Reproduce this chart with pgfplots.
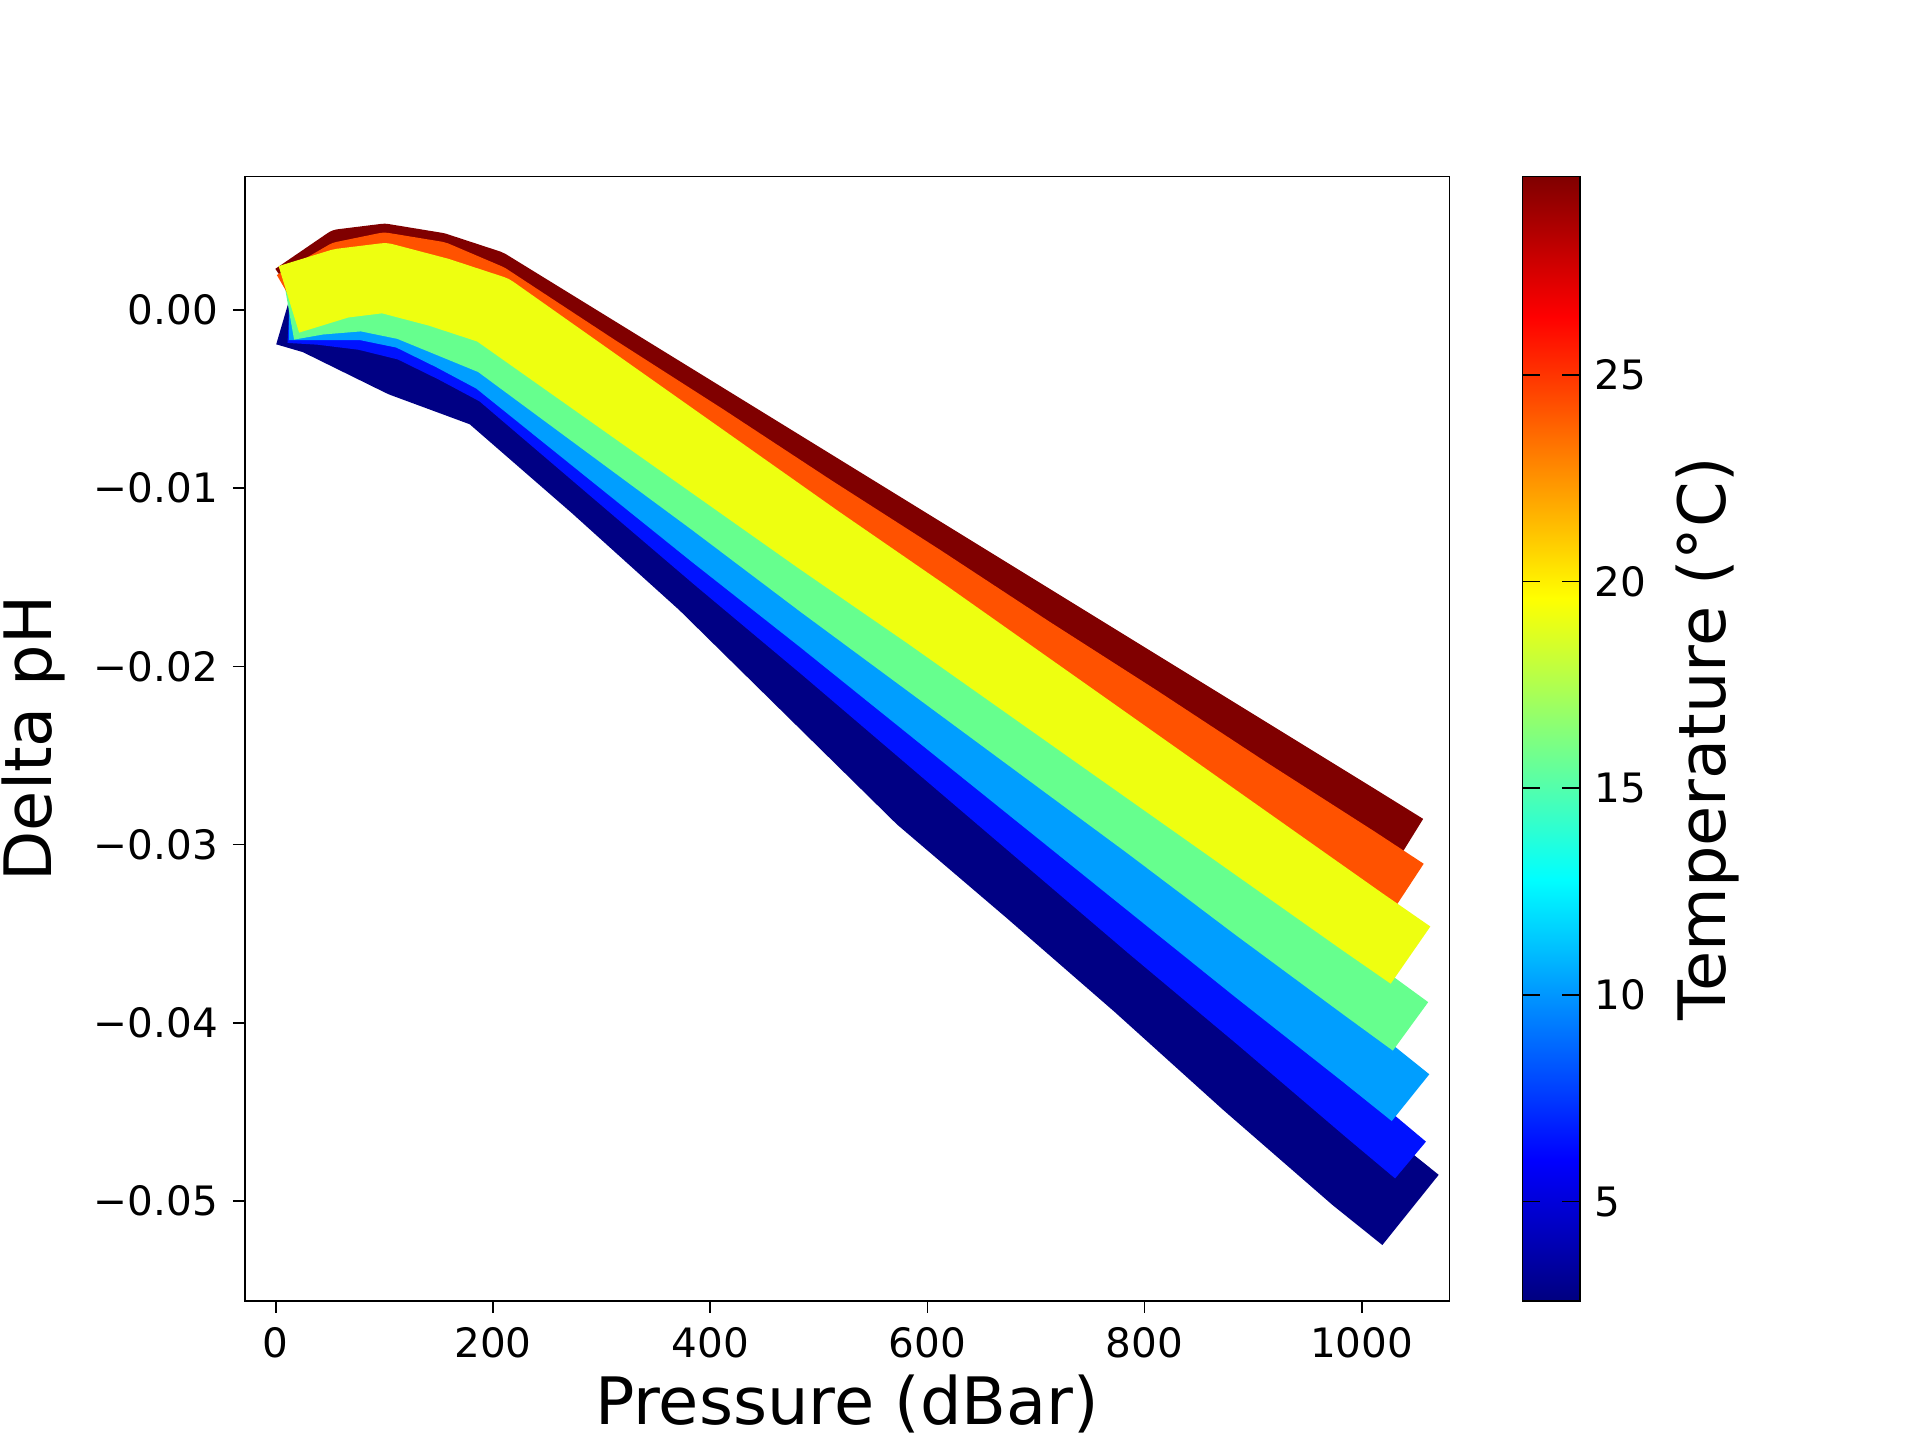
\documentclass[border=0pt]{standalone}
\usepackage{pgfplots}
\pgfplotsset{compat=1.18}
\usepackage{fontspec}
\setmainfont{DejaVu Sans}
\definecolor{cdr}{HTML}{800000}
\definecolor{cor}{HTML}{FF5200}
\definecolor{cye}{HTML}{EEFF10}
\definecolor{cgr}{HTML}{66FF8E}
\definecolor{clb}{HTML}{009EFF}
\definecolor{cbl}{HTML}{0012FF}
\definecolor{cnv}{HTML}{000084}
\begin{document}
\begin{tikzpicture}
\useasboundingbox (-2.04,-1.17) rectangle (13.96,10.84);
\begin{axis}[
  scale only axis, width=10.04cm, height=9.37cm,
  xmin=-28.6, xmax=1081, ymin=-0.0556, ymax=0.0075,
  xtick={0,200,400,600,800,1000},
  ytick={-0.05,-0.04,-0.03,-0.02,-0.01,0},
  yticklabels={−0.05,−0.04,−0.03,−0.02,−0.01,0.00},
  scaled y ticks=false,
  /pgf/number format/1000 sep={},
  /pgf/number format/assume math mode=true,
  ticklabel style={font=\fontsize{9.6}{11}\selectfont},
  tick align=outside, tick style={black, thin}, major tick length=0.1cm,
  xtick pos=bottom, ytick pos=left,
  xlabel={Pressure (dBar)}, ylabel={Delta pH},
  xlabel style={yshift=0.1cm},
  label style={font=\fontsize{15.5}{18}\selectfont},
  colormap/jet, point meta min=2.6, point meta max=29.8,
  colorbar,
  colorbar style={width=0.48cm, xshift=0.3cm, ytick={5,10,15,20,25},
    yticklabel style={font=\fontsize{9.6}{11}\selectfont},
    ylabel={Temperature (°C)}, ylabel style={font=\fontsize{15.5}{18}\selectfont},
    /pgf/number format/assume math mode=true},
  every axis plot/.append style={line cap=butt, line join=round},
]
\addplot[cnv, line width=0.75cm] coordinates {(12,0.0005)(40,0.0)(80,-0.0012)(120,-0.0024)(160,-0.0033)(200,-0.0042)(300,-0.0095)(400,-0.015)(500,-0.021)(600,-0.027)(700,-0.0322)(800,-0.0375)(900,-0.043)(1000,-0.0483)(1045,-0.0505)};
\addplot[cbl, line width=0.4cm] coordinates {(12,-0.0005)(40,-0.0006)(80,-0.0009)(120,-0.0015)(160,-0.0027)(200,-0.004)(300,-0.0092)(400,-0.0144)(500,-0.0195)(600,-0.0247)(700,-0.0299)(800,-0.0351)(900,-0.0402)(1000,-0.0454)(1045,-0.0477)};
\addplot[clb, line width=0.5cm] coordinates {(12,0.0)(40,0.0)(80,0.0)(120,-0.0005)(160,-0.0017)(200,-0.003)(300,-0.0079)(400,-0.0128)(500,-0.0176)(600,-0.0225)(700,-0.0274)(800,-0.0323)(900,-0.0372)(1000,-0.042)(1045,-0.0442)};
\addplot[cgr, line width=0.5cm] coordinates {(12,0.0)(40,0.0003)(80,0.0005)(120,0.0)(160,-0.001)(200,-0.002)(300,-0.0065)(400,-0.011)(500,-0.0156)(600,-0.0201)(700,-0.0246)(800,-0.0291)(900,-0.0337)(1000,-0.0382)(1045,-0.0402)};
\addplot[cdr, line width=0.4cm] coordinates {(12,0.0012)(60,0.0032)(100,0.0035)(150,0.003)(200,0.002)(300,-0.00175)(400,-0.0055)(500,-0.00925)(600,-0.013)(700,-0.01675)(800,-0.0205)(900,-0.02425)(1000,-0.028)(1045,-0.0297)};
\addplot[cor, line width=0.4cm] coordinates {(12,0.0008)(60,0.0025)(100,0.003)(150,0.0025)(200,0.0012)(300,-0.0028)(400,-0.0067)(500,-0.0107)(600,-0.0146)(700,-0.0186)(800,-0.0225)(900,-0.0265)(1000,-0.0304)(1045,-0.0322)};
\addplot[cye, line width=0.58cm] coordinates {(12,0.0006)(60,0.0015)(100,0.0018)(150,0.001)(200,0.0)(300,-0.0043)(400,-0.0086)(500,-0.0129)(600,-0.0171)(700,-0.0214)(800,-0.0257)(900,-0.030)(1000,-0.0343)(1045,-0.0362)};
\end{axis}
\end{tikzpicture}
\end{document}
